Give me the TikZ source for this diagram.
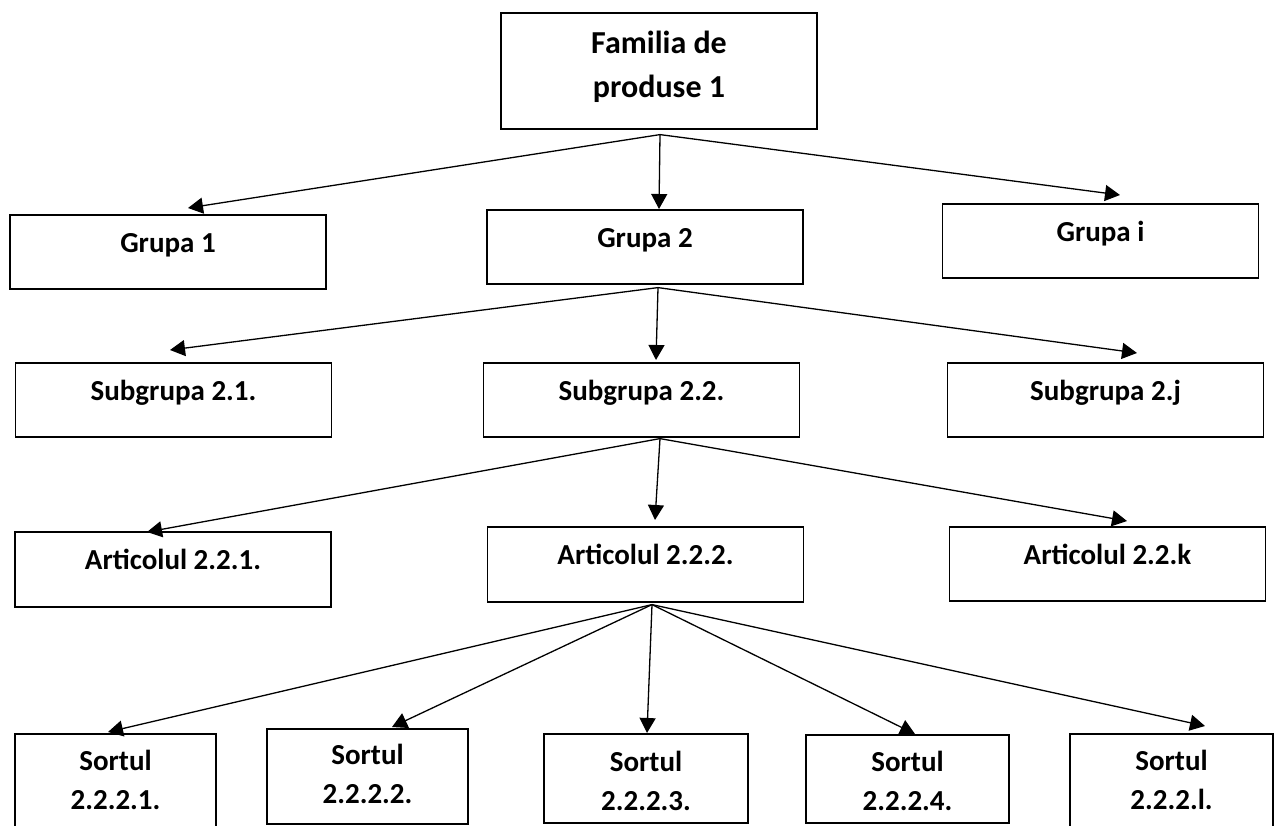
\documentclass[tikz,border=0pt]{standalone}
\usepackage{fontspec}
\setmainfont{Carlito}
\usepackage{tikz}
\usetikzlibrary{positioning,arrows.meta,calc}

\begin{document}
\begin{tikzpicture}[
    x=1pt, y=-1pt,
    box/.style={rectangle, draw, line width=1.6pt, anchor=north, inner sep=0pt, minimum width=316pt, text height=38pt, text depth=36pt, font=\bfseries\fontsize{29}{39}\selectfont},
    topbox/.style={box, align=center, text height=85pt, text depth=31pt, font=\bfseries\fontsize{32}{44}\selectfont},
    sortbox/.style={box, align=center, minimum width=202pt, text height=76pt},
    arr/.style={-{Triangle[length=15pt, width=16pt]}, line width=1.3pt}
]
\useasboundingbox (0,0) rectangle (1274,825);

% Row 0: Familia
\node[topbox] (fam) at (659,12) {Familia de\\produse 1};
\coordinate (famout) at ($(fam.south)+(1,5)$);

% Row 1: Grupe
\node[box] (g1) at (168,214) {Grupa 1};
\node[box] (g2) at (645,209) {Grupa 2};
\node[box] (gi) at (1100.5,203) {Grupa i};

\draw[arr] (famout) -- ($(g1.north)+(20,-6)$);
\draw[arr] (famout) -- ($(g2.north)+(14,0)$);
\draw[arr] (famout) -- ($(gi.north)+(19.5,-8)$);

% Row 2: Subgrupe
\node[box] (s1) at (173.5,362) {Subgrupa 2.1.};
\node[box] (s2) at (641.5,362) {Subgrupa 2.2.};
\node[box] (sj) at (1105.5,362) {Subgrupa 2.j};
\coordinate (g2out) at ($(g2.south)+(13,3)$);

\draw[arr] (g2out) -- ($(s1.north)+(-3.5,-12)$);
\draw[arr] (g2out) -- ($(s2.north)+(14.5,-2)$);
\draw[arr] (g2out) -- ($(sj.north)+(31.5,-9)$);

% Row 3: Articole
\node[box, text depth=37pt] (a1) at (173,531) {Articolul 2.2.1.};
\node[box, text depth=37pt] (a2) at (645.5,526) {Articolul 2.2.2.};
\node[box] (ak) at (1107.5,526) {Articolul 2.2.k};
\coordinate (s2out) at ($(s2.south)+(18.5,1)$);

\draw[arr] (s2out) -- ($(a1.north)+(-26,1)$);
\draw[arr] (s2out) -- ($(a2.north)+(9.5,-6)$);
\draw[arr] (s2out) -- ($(ak.north)+(19.5,-5)$);

% Row 4: Sorturi
\node[sortbox, text depth=21pt, minimum width=201pt] (st1) at (115.5,733) {Sortul\\2.2.2.1.};
\node[sortbox, text height=75pt, text depth=20pt, minimum width=201pt] (st2) at (367.5,728) {Sortul\\2.2.2.2.};
\node[sortbox, text height=77pt, text depth=12pt, minimum width=204pt] (st3) at (646,733) {Sortul\\2.2.2.3.};
\node[sortbox, text depth=12pt, minimum width=203pt] (st4) at (907.5,734) {Sortul\\2.2.2.4.};
\node[sortbox, text depth=21pt, minimum width=203pt] (st5) at (1171.5,733) {Sortul\\2.2.2.l.};
\coordinate (a2out) at ($(a2.south)+(6.5,2)$);

\draw[arr] (a2out) -- ($(st1.north)+(-7.5,-1)$);
\draw[arr] (a2out) -- ($(st2.north)+(24.5,-1)$);
\draw[arr] (a2out) -- ($(st3.north)+(1,0)$);
\draw[arr] (a2out) -- ($(st4.north)+(7.5,0)$);
\draw[arr] (a2out) -- ($(st5.north)+(33.5,-7)$);

\end{tikzpicture}
\end{document}
